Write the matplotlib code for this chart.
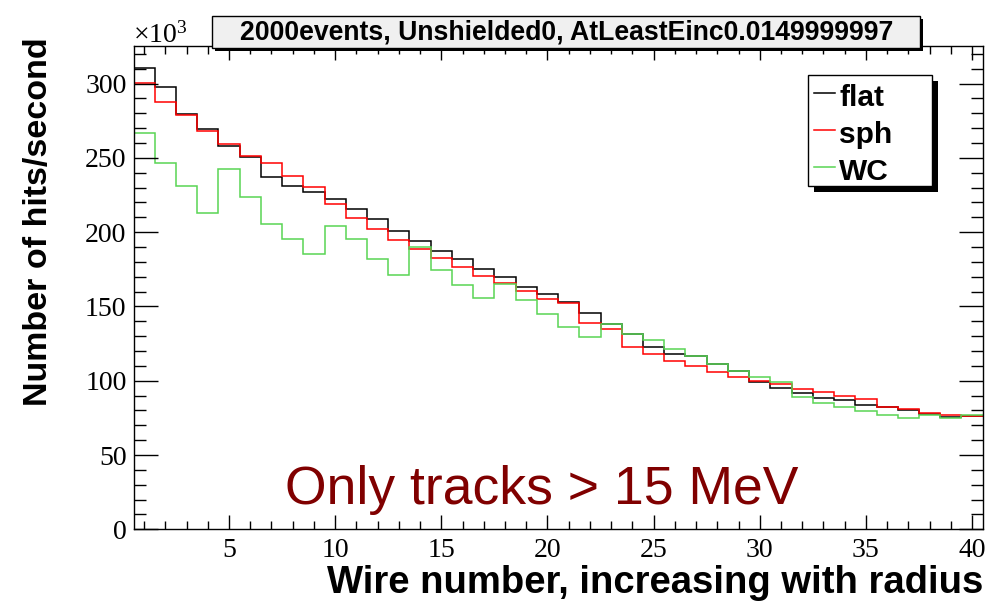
import numpy as np
import matplotlib
matplotlib.use('Agg')
import matplotlib.pyplot as plt
from matplotlib.patches import Rectangle
from matplotlib.ticker import MultipleLocator

# hits/second per wire, in units of 10^3
wires = np.arange(1, 41)
flat = [310.2, 297.4, 279.5, 269.4, 258.2, 250.8, 236.9, 231.3, 227.2, 222.1,
        215.3, 209.0, 200.7, 194.2, 187.5, 181.7, 175.2, 169.9, 162.9, 158.2,
        152.8, 145.4, 137.9, 131.2, 122.7, 117.8, 116.8, 111.0, 106.5, 99.1,
        95.3, 91.5, 88.6, 86.8, 83.7, 82.1, 80.3, 77.6, 75.6, 76.0]
sph = [300.6, 287.8, 278.6, 268.0, 259.3, 251.2, 246.3, 237.5, 230.6, 218.8,
       209.3, 202.1, 194.5, 188.6, 182.4, 176.7, 170.7, 166.0, 160.6, 155.0,
       152.1, 139.1, 134.6, 122.5, 118.0, 113.1, 109.9, 106.1, 102.8, 99.8,
       97.8, 94.2, 92.2, 89.7, 87.9, 82.3, 80.8, 78.3, 76.9, 76.2]
wc = [266.9, 246.7, 231.2, 213.1, 242.7, 223.4, 205.7, 195.3, 185.5, 203.9,
      195.3, 182.1, 171.3, 190.2, 174.7, 164.2, 155.7, 165.2, 154.2, 145.0,
      135.9, 129.6, 137.9, 131.4, 127.4, 121.4, 116.7, 111.3, 106.6, 102.5,
      99.1, 89.3, 84.8, 82.3, 79.4, 77.2, 74.9, 76.7, 75.1, 76.7]
names = ['flat', 'sph', 'WC']
colors = ['black', '#ff0000', '#59d454']

W, H = 997, 604
fig = plt.figure(figsize=(W / 100, H / 100), dpi=100, facecolor='white')
ax = fig.add_axes([133.5 / W, 1 - 529.3 / H, (982.7 - 133.5) / W, (529.3 - 45.7) / H])

edges = np.append(wires - 0.5, wires[-1] + 0.5)
for vals, c in zip([flat, sph, wc], colors):
    ax.stairs(vals, edges, baseline=None, color=c, lw=1.1)

ax.set_xlim(0.5, 40.5)
ax.set_ylim(0, 325.5)
ax.xaxis.set_major_locator(MultipleLocator(5))
ax.xaxis.set_minor_locator(MultipleLocator(1))
ax.yaxis.set_major_locator(MultipleLocator(50))
ax.yaxis.set_minor_locator(MultipleLocator(10))
ax.tick_params(which='both', direction='in', top=True, right=True, width=1.0)
ax.tick_params(axis='x', which='major', length=10, pad=6)
ax.tick_params(axis='x', which='minor', length=5.5)
ax.tick_params(axis='y', which='major', length=17, pad=5)
ax.tick_params(axis='y', which='minor', length=8.5)
for lab in ax.get_xticklabels() + ax.get_yticklabels():
    lab.set_family('Liberation Serif')
    lab.set_fontsize(20)
for s in ax.spines.values():
    s.set_linewidth(1.0)

def fx(px):
    return px / W

def fy(py):
    return 1 - py / H

fig.text(fx(133), fy(43), r'$\mathregular{\times10^{3}}$', family='Liberation Serif',
         fontsize=20, ha='left', va='baseline')

# title box with shadow
fig.patches.append(Rectangle((fx(215), fy(51)), fx(920) - fx(212), fy(16) - fy(48),
                             transform=fig.transFigure, facecolor='black', edgecolor='none', zorder=5))
fig.patches.append(Rectangle((fx(212), fy(48)), fx(920) - fx(212), fy(16) - fy(48),
                             transform=fig.transFigure, facecolor='#f0f0f0', edgecolor='black',
                             lw=1.0, zorder=6))
fig.text(fx(567), fy(32), '2000events, Unshielded0, AtLeastEinc0.0149999997',
         family='Liberation Sans', weight='bold', fontsize=19.2, ha='center', va='center', zorder=7)

# legend box with shadow
fig.patches.append(Rectangle((fx(814), fy(192)), fx(932) - fx(808), fy(75) - fy(186),
                             transform=fig.transFigure, facecolor='black', edgecolor='none', zorder=5))
fig.patches.append(Rectangle((fx(808), fy(186)), fx(932) - fx(808), fy(75) - fy(186),
                             transform=fig.transFigure, facecolor='white', edgecolor='black',
                             lw=1.0, zorder=6))
for i, (nm, c) in enumerate(zip(names, colors)):
    yl = 93.3 + i * 37
    fig.add_artist(plt.Line2D([fx(814), fx(835)], [fy(yl), fy(yl)], color=c, lw=1.1,
                              transform=fig.transFigure, zorder=7))
    fig.text(fx(839), fy(yl + 12.5), nm, family='Liberation Sans', weight='bold', fontsize=21.5,
             ha='left', va='baseline', zorder=7)

fig.text(fx(38), fy(222), 'Number of hits/second', family='Liberation Sans', weight='bold',
         fontsize=24.5, rotation=90, ha='center', va='center')
fig.text(fx(983), fy(593), 'Wire number, increasing with radius', family='Liberation Sans',
         weight='bold', fontsize=27.5, ha='right', va='baseline')
fig.text(fx(542), fy(504), 'Only tracks > 15 MeV', family='Liberation Sans', fontsize=38.5,
         color='#800000', ha='center', va='baseline')

fig.savefig('out.png', dpi=100)
